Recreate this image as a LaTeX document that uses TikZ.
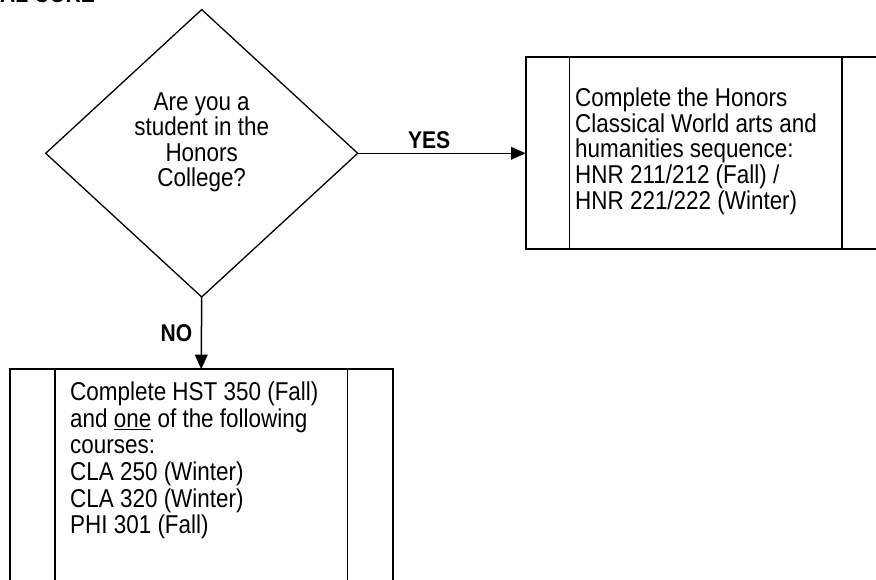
\documentclass[tikz,border=0pt]{standalone}
\usepackage{fontspec}
\setmainfont{Liberation Sans}[FakeStretch=0.87]
\usepackage{tikz}
\usetikzlibrary{arrows.meta}
\usetikzlibrary{positioning,shapes.geometric}
\tikzset{
    decision/.style={
        draw,
        diamond,
        line width=1.3pt,
        minimum width=312pt,
        minimum height=287.4pt,
        inner sep=0pt,
        outer sep=0pt
    },
    procbox/.style={
        draw,
        rectangle,
        line width=2pt,
        inner sep=0pt,
        outer sep=0pt
    },
    boxtext/.style={
        inner sep=0pt,
        font=\fontsize{25.8}{25.4}\selectfont
    },
    flow/.style={
        draw,
        -{Triangle[length=14.7pt, width=12.7pt]},
        line width=1.5pt
    },
    answer/.style={
        inner sep=0pt,
        font=\fontsize{24.2}{26}\selectfont\bfseries
    }
}

\begin{document}
\begin{tikzpicture}[x=1pt, y=-1pt]
  \useasboundingbox (0,0) rectangle (876,580);

  % Heading (cut off at the top)
  \node[answer, anchor=base west] (title) at (0,2.5) {AL CORE};

  % Question
  \node[decision] (q) at (201.7,153.3) {};
  \node[boxtext, align=center, anchor=north] (qtext) at (201.7,92.5)
    {Are you a\\student in the\\Honors\\College?};

  % Honors sequence
  \node[procbox, minimum width=360pt, minimum height=192pt] (honors) at (705.7,153.3) {};
  \node[boxtext, align=left, anchor=north west] (honorstext) at (575,87.5)
    {Complete the Honors\\[0.4pt]Classical World arts and\\[0.4pt]humanities sequence:\\[0.4pt]HNR 211/212 (Fall) /\\[0.4pt]HNR 221/222 (Winter)};

  % Regular sequence
  \node[procbox, minimum width=383pt, minimum height=240pt] (nobox) at (201.2,489.3) {};
  \node[boxtext, align=left, anchor=north west] (noboxtext) at (70,381.5)
    {Complete HST 350 (Fall)\\[1.3pt]and \underline{one} of the following\\[1.3pt]courses:\\[1.3pt]CLA 250 (Winter)\\[1.3pt]CLA 320 (Winter)\\[1.3pt]PHI 301 (Fall)};

  % side bars of the process boxes
  \foreach \b/\d in {honors/43.6, nobox/45.3} {
    \draw[line width=1.3pt] ([xshift=\d pt]\b.north west) -- ([xshift=\d pt]\b.south west);
    \draw[line width=1.3pt] ([xshift=-\d pt]\b.north east) -- ([xshift=-\d pt]\b.south east);
  }

  % Answers
  \draw[flow] (q.east) -- (honors.west);
  \draw[flow] (q.south) -- (nobox.north);
  \node[answer] (yeslbl) at (429.2,139.7) {YES};
  \node[answer] (nolbl) at (176.5,333.3) {NO};
\end{tikzpicture}
\end{document}
